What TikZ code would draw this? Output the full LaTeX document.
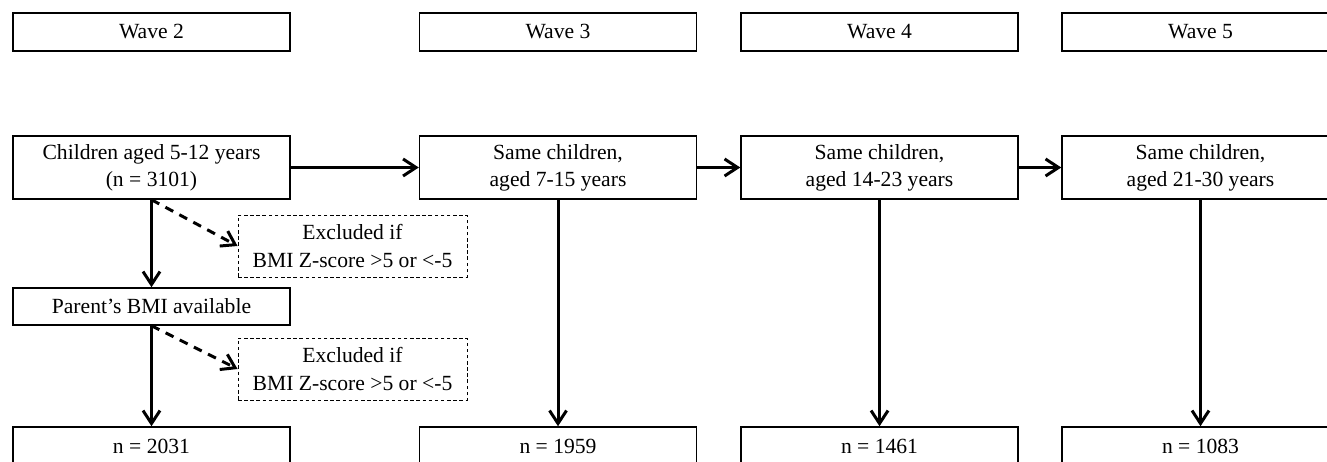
\documentclass[tikz,border=0pt]{standalone}
\usepackage{fontspec}
\setmainfont{Liberation Serif}
\usetikzlibrary{arrows.meta}

\begin{document}
\begin{tikzpicture}[x=0.02cm,y=-0.02cm,
        box/.style={draw,line width=0.85pt,minimum width=5.54cm,inner sep=0pt,align=center,font=\fontsize{12.3}{15.4}\selectfont},
        wavebox/.style={box,minimum height=0.76cm},
        groupbox/.style={box,minimum height=1.26cm},
        exclbox/.style={box,line width=0.5pt,dash pattern=on 2pt off 1.5pt,minimum width=4.58cm,minimum height=1.24cm},
        flow/.style={line width=1.7pt,-{Straight Barb[length=2.6mm,width=3.4mm]}},
        drop/.style={flow,dash pattern=on 5pt off 4pt}]
        \clip (0,0) rectangle (1327,462);
        % waves
        \node[wavebox] (w2) at (151.5,32) {Wave 2};
        \node[wavebox] (w3) at (558,32) {Wave 3};
        \node[wavebox] (w4) at (879.5,32) {Wave 4};
        \node[wavebox] (w5) at (1200.5,32) {Wave 5};
        % samples
        \node[groupbox] (c2) at (151.5,167.5) {Children aged 5-12 years\\(n = 3101)};
        \node[groupbox] (c3) at (558,167.5) {Same children,\\aged 7-15 years};
        \node[groupbox] (c4) at (879.5,167.5) {Same children,\\aged 14-23 years};
        \node[groupbox] (c5) at (1200.5,167.5) {Same children,\\aged 21-30 years};
        \node[exclbox] (ex1) at (352.5,246) {Excluded if\\BMI Z-score >5 or <-5};
        \node[box,minimum height=0.74cm] (par) at (151.5,306.5) {Parent’s BMI available};
        \node[exclbox] (ex2) at (352.5,369) {Excluded if\\BMI Z-score >5 or <-5};
        \node[wavebox] (n2) at (151.5,446) {n = 2031};
        \node[wavebox] (n3) at (558,446) {n = 1959};
        \node[wavebox] (n4) at (879.5,446) {n = 1461};
        \node[wavebox] (n5) at (1200.5,446) {n = 1083};
        % arrows
        \draw[flow] (c2.east) -- (c3.west);
        \draw[flow] (c3.east) -- (c4.west);
        \draw[flow] (c4.east) -- (c5.west);
        \draw[flow] (c2.south) -- (par.north);
        \draw[flow] (par.south) -- (n2.north);
        \draw[flow] (c3.south) -- (n3.north);
        \draw[flow] (c4.south) -- (n4.north);
        \draw[flow] (c5.south) -- (n5.north);
        \draw[drop] (c2.south) -- (ex1.west);
        \draw[drop] (par.south) -- (ex2.west);
    \end{tikzpicture}
\end{document}
